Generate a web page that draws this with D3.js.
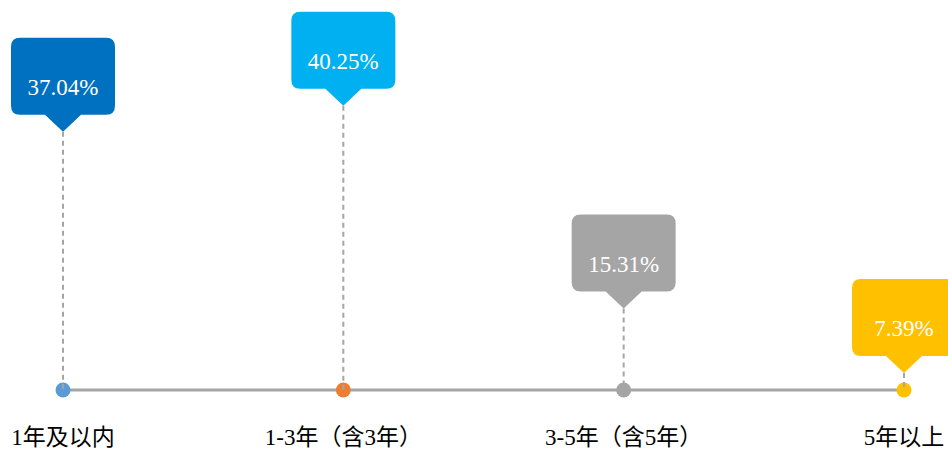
<!DOCTYPE html>
<html>
<head>
<meta charset="utf-8">
<script src="https://cdn.jsdelivr.net/npm/d3@7"></script>
<style>
html,body{margin:0;padding:0;background:#fff;overflow:hidden;}
svg{display:block;}
</style>
</head>
<body>
<svg id="chart" width="948" height="449"></svg>
<script>
const categories = ["1年及以内", "1-3年（含3年）", "3-5年（含5年）", "5年以上"];
const values = [37.04, 40.25, 15.31, 7.39];
const valueLabels = ["37.04%", "40.25%", "15.31%", "7.39%"];
const pointColors = ["#5B9BD5", "#ED7D31", "#A5A5A5", "#FFC000"];
const calloutColors = ["#0070C0", "#00B0F0", "#A5A5A5", "#FFC000"];

const W = 948, H = 449;
const baseY = 390;
const svg = d3.select("#chart");

const x = d3.scalePoint().domain(categories).range([63, 904]);
const y = d3.scaleLinear().domain([0, 50]).range([433, 26.5]);

const fontFamily = "'Liberation Serif','Times New Roman','Noto Sans CJK SC',serif";

// axis line
svg.append("line")
  .attr("x1", x(categories[0])).attr("x2", x(categories[categories.length - 1]))
  .attr("y1", baseY).attr("y2", baseY)
  .attr("stroke", "#A5A5A5").attr("stroke-width", 3);

const data = categories.map((c, i) => ({c, v: values[i], label: valueLabels[i], pc: pointColors[i], cc: calloutColors[i]}));

// points
svg.selectAll("circle.pt").data(data).enter().append("circle")
  .attr("class", "pt")
  .attr("cx", d => x(d.c)).attr("cy", baseY).attr("r", 7.5)
  .attr("fill", d => d.pc);

// dashed leaders
svg.selectAll("line.lead").data(data).enter().append("line")
  .attr("class", "lead")
  .attr("x1", d => x(d.c)).attr("x2", d => x(d.c))
  .attr("y1", d => y(d.v)).attr("y2", baseY)
  .attr("stroke", "#A5A5A5").attr("stroke-width", 2)
  .attr("stroke-dasharray", "5,4");

// callouts
const bw = 104, bh = 77, pr = 9, ph = 17, pw = 36;
function calloutPath(cx, tipY) {
  const bottom = tipY - ph, top = bottom - bh;
  const l = cx - bw / 2, r = cx + bw / 2;
  return `M${l + pr},${top} H${r - pr} Q${r},${top} ${r},${top + pr} V${bottom - pr} Q${r},${bottom} ${r - pr},${bottom}` +
    ` H${cx + pw / 2} L${cx},${tipY} L${cx - pw / 2},${bottom} H${l + pr} Q${l},${bottom} ${l},${bottom - pr} V${top + pr} Q${l},${top} ${l + pr},${top} Z`;
}
const g = svg.selectAll("g.callout").data(data).enter().append("g").attr("class", "callout");
g.append("path")
  .attr("d", d => calloutPath(x(d.c), y(d.v)))
  .attr("fill", d => d.cc);
g.append("text")
  .attr("x", d => x(d.c))
  .attr("y", d => y(d.v) - ph - bh + 57)
  .attr("text-anchor", "middle")
  .attr("fill", "#fff")
  .attr("font-family", fontFamily)
  .attr("font-size", 23)
  .text(d => d.label);

// category labels
svg.selectAll("text.cat").data(data).enter().append("text")
  .attr("class", "cat")
  .attr("x", d => x(d.c))
  .attr("y", 445)
  .attr("text-anchor", "middle")
  .attr("fill", "#000")
  .attr("font-family", fontFamily)
  .attr("font-size", 23)
  .text(d => d.c);
</script>
</body>
</html>
